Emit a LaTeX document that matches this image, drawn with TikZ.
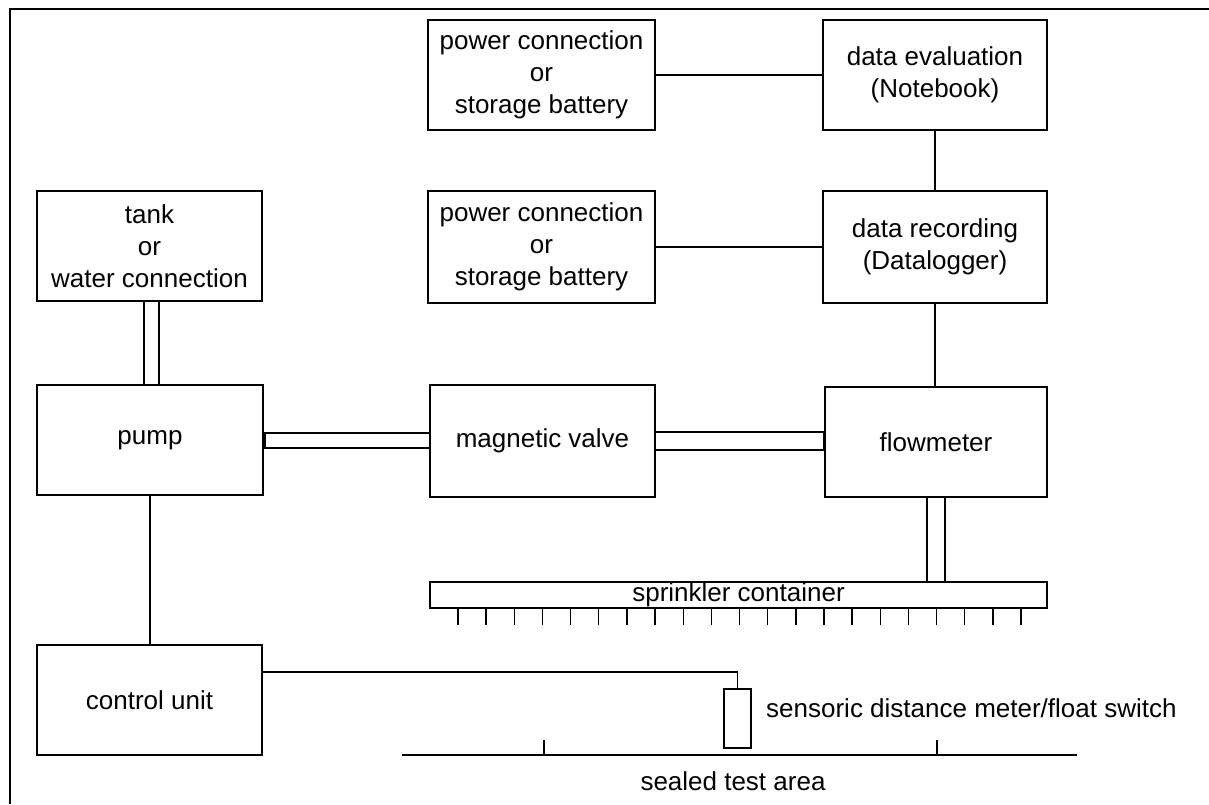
\documentclass[tikz,border=0pt]{standalone}
\usepackage{fontspec}
\setmainfont{Liberation Sans}
\usetikzlibrary{calc}
\begin{document}
\begin{tikzpicture}[x=1pt,y=-1pt,
  box/.style={draw, line width=1.4pt, inner sep=0pt, outer sep=0pt, align=center, font=\fontsize{26}{32}\selectfont},
  pipe/.style={draw, line width=1.4pt},
  capline/.style={line width=3pt},
  lbl/.style={inner sep=0pt, font=\fontsize{26}{32}\selectfont},
  frameline/.style={line width=2pt}]
\useasboundingbox (0,0) rectangle (1209,804);
\fill[white] (0,0) rectangle (1209,804);
\draw[frameline] (9.5,804) -- (9.5,8.5) -- (1209,8.5);

% boxes
\node[box, minimum width=227pt, minimum height=110pt] (p1) at (541.5,75) {power connection\\or\\storage battery};
\node[box, minimum width=224pt, minimum height=110pt] (eval) at (935,75) {data evaluation\\(Notebook)};
\node[box, minimum width=227pt, minimum height=112pt] (p2) at (541.5,247) {power connection\\or\\storage battery};
\node[box, minimum width=224pt, minimum height=112pt] (rec) at (935,247) {data recording\\(Datalogger)};
\node[box, minimum width=225pt, minimum height=110pt] (tank) at (149.5,246) {tank\\or\\water connection};
\node[box, minimum width=226pt, minimum height=110pt] (pump) at (150,440) {pump};
\node[box, minimum width=225pt, minimum height=112pt] (valve) at (542.5,441) {magnetic valve};
\node[box, minimum width=222pt, minimum height=110pt] (flow) at (936,442) {flowmeter};
\node[box, minimum width=617pt, minimum height=26pt] (sprink) at (738.5,595) {sprinkler container};
\node[box, minimum width=225pt, minimum height=110pt] (control) at (149.5,700) {control unit};
\node[box, minimum width=27pt, minimum height=59pt] (sensor) at (737.5,718.5) {};

% signal lines
\draw[pipe] (p1.east) -- (eval.west);
\draw[pipe] (eval.south) -- (rec.north);
\draw[pipe] (p2.east) -- (rec.west);
\draw[pipe] (rec.south) -- (rec.south |- flow.north);
\draw[pipe] (pump.south) -- (pump.south |- control.north);
\draw[pipe] ([yshift=28pt]control.east) -| (sensor.north);

% pipes
\coordinate (tp1) at ($(tank.south)+(-5.5,0)$);
\coordinate (tp2) at ($(pump.north)+(9,0)$);
\draw[pipe] (tp1) rectangle (tp2);
\draw[pipe] ($(pump.east)+(0,-7)$) rectangle ($(valve.west)+(0,7)$);
\draw[capline] ($(pump.east)+(1,-7)$) -- ($(pump.east)+(1,7)$);
\draw[pipe] ($(valve.east)+(0,-9)$) rectangle ($(flow.west)+(0,8)$);
\draw[capline] ($(flow.west)+(-1,-9)$) -- ($(flow.west)+(-1,8)$);
\coordinate (fs1) at ($(flow.south)+(-9,0)$);
\coordinate (fs2) at ($(flow.south)+(9,0)$);
\draw[pipe] (fs1) -- (fs1 |- sprink.north) (fs2) -- (fs2 |- sprink.north);

% sprinkler nozzles
\foreach \i in {0,...,20}
  \draw[pipe] ($(sprink.south west)+(28+28.15*\i,0)$) -- ++(0,17);

% ground
\coordinate (gl) at (402,755);
\coordinate (gr) at (1077,755);
\draw[pipe] (gl) -- (gr);
\draw[pipe] (544,755) -- (544,740);
\draw[pipe] (937,755) -- (937,740);

% labels
\node[lbl, anchor=base west] (slabel) at (766,717) {sensoric distance meter/float switch};
\node[lbl, anchor=base] (area) at (733,790) {sealed test area};
\end{tikzpicture}
\end{document}
